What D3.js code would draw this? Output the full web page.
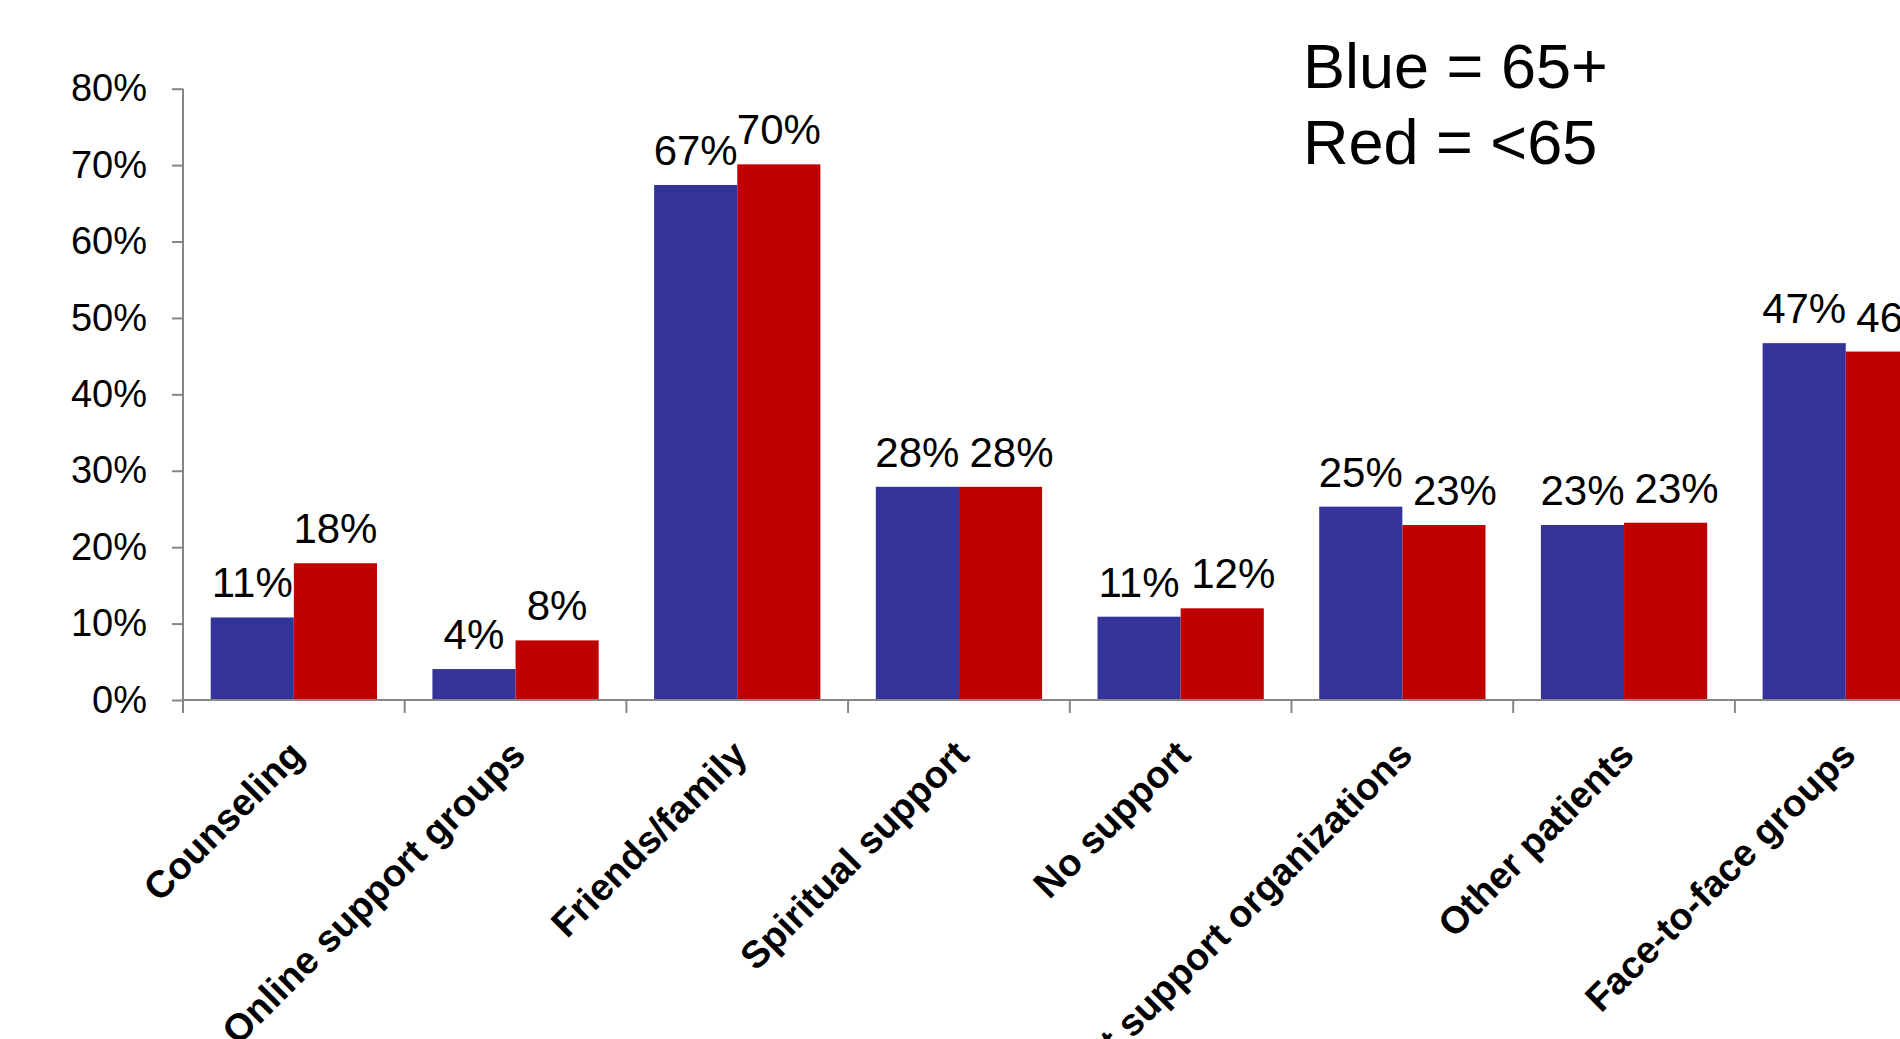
<!DOCTYPE html>
<html>
<head>
<meta charset="utf-8">
<script src="https://cdn.jsdelivr.net/npm/d3@7"></script>
<style>
  body { margin: 0; background: #fff; }
  svg { display: block; font-family: "Liberation Sans", Arial, sans-serif; }
</style>
</head>
<body>
<div class="chart"></div>
<script>
// values, in percent
const categories = ["Counseling", "Online support groups", "Friends/family", "Spiritual support",
  "No support", "Patient support organizations", "Other patients", "Face-to-face groups"];
const blue65 = [10.8, 4.05, 67.4, 27.9, 10.9, 25.3, 22.9, 46.7];
const redUnder65 = [17.9, 7.8, 70.1, 27.9, 12.0, 22.9, 23.2, 45.6];
const yTicks = [0, 10, 20, 30, 40, 50, 60, 70, 80];
const legendLines = ["Blue = 65+", "Red = <65"];

const width = 1900, height = 1039;
const plotLeft = 183, bandW = 221.7, plotTop = 88.7, plotBottom = 700;

const svg = d3.select(".chart").append("svg")
  .attr("width", width)
  .attr("height", height)
  .attr("viewBox", [0, 0, width, height]);

const x0 = d3.scaleBand()
  .domain(categories)
  .range([plotLeft, plotLeft + bandW * categories.length]);

const x1 = d3.scaleBand()
  .domain(["blue", "red"])
  .range([bandW * 0.125, bandW * 0.875]);

const y = d3.scaleLinear()
  .domain([0, 80])
  .range([plotBottom, plotTop]);

const rows = categories.map((c, i) => ({ cat: c, blue: blue65[i], red: redUnder65[i] }));
const colors = { blue: "#333399", red: "#c00000" };

// bars
const groups = svg.selectAll(".grp")
  .data(rows)
  .join("g")
  .attr("class", "grp")
  .attr("transform", d => `translate(${x0(d.cat)},0)`);

groups.selectAll("rect")
  .data(d => ["blue", "red"].map(k => ({ key: k, value: d[k] })))
  .join("rect")
  .attr("x", d => x1(d.key))
  .attr("y", d => y(d.value))
  .attr("width", x1.bandwidth())
  .attr("height", d => y(0) - y(d.value))
  .attr("fill", d => colors[d.key]);

// value labels; a red label nudged right when it sits level with the blue one
groups.selectAll("text")
  .data(d => ["blue", "red"].map(k => ({
    key: k, value: d[k],
    nudge: k === "red" && Math.abs(y(d.blue) - y(d.red)) < 20 ? 11 : 0
  })))
  .join("text")
  .attr("x", d => x1(d.key) + x1.bandwidth() / 2 + d.nudge)
  .attr("y", d => y(d.value) - 20)
  .attr("text-anchor", "middle")
  .attr("font-size", 42)
  .attr("fill", "#000")
  .text(d => Math.round(d.value) + "%");

// y axis
const yAxis = svg.append("g")
  .attr("transform", `translate(${plotLeft},0)`)
  .call(d3.axisLeft(y).tickValues(yTicks).tickSize(11).tickPadding(25).tickFormat(d => d + "%"));
yAxis.select(".domain").attr("stroke", "#868686").attr("stroke-width", 2)
  .attr("d", `M0,${plotTop}V${plotBottom + 13}`);
yAxis.selectAll(".tick line").attr("stroke", "#868686").attr("stroke-width", 2);
yAxis.selectAll(".tick text").attr("font-size", 38).attr("fill", "#000")
  .attr("font-family", "Liberation Sans, Arial, sans-serif");

// x axis with ticks between categories
const xAxis = svg.append("g").attr("transform", `translate(0,${plotBottom})`);
xAxis.append("line")
  .attr("x1", plotLeft).attr("x2", width)
  .attr("stroke", "#868686").attr("stroke-width", 2);
xAxis.selectAll(".xt")
  .data(categories)
  .join("line")
  .attr("class", "xt")
  .attr("x1", d => x0(d)).attr("x2", d => x0(d))
  .attr("y1", 0).attr("y2", 13)
  .attr("stroke", "#868686").attr("stroke-width", 2);

xAxis.selectAll(".xl")
  .data(categories)
  .join("text")
  .attr("class", "xl")
  .attr("transform", d => `translate(${x0(d) + x0.bandwidth() / 2 + 12},57) rotate(-45)`)
  .attr("text-anchor", "end")
  .attr("font-size", 38)
  .attr("font-weight", "bold")
  .attr("fill", "#000")
  .text(d => d);

// legend note
svg.append("g").selectAll("text")
  .data(legendLines)
  .join("text")
  .attr("x", 1303)
  .attr("y", (d, i) => 88 + i * 76)
  .attr("font-size", 63)
  .attr("fill", "#000")
  .text(d => d);
</script>
</body>
</html>
